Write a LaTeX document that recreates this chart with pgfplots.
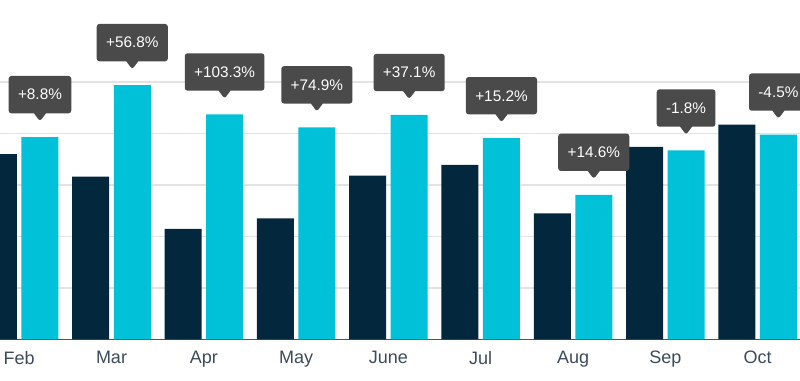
\documentclass[border=0pt]{standalone}
\usepackage{pgfplots}
\pgfplotsset{compat=1.18}
\usepackage{pgfplotstable}
\usepackage{fontspec}
\setmainfont{Liberation Sans}
\usetikzlibrary{shapes.callouts}
\definecolor{darkbar}{HTML}{03283E}
\definecolor{cyanbar}{HTML}{00C1D8}
\definecolor{callgray}{HTML}{4A4A4A}
\definecolor{ticktext}{HTML}{3B4B5A}
\definecolor{gridc}{HTML}{E3E3E3}
\definecolor{basec}{HTML}{4A5560}

\pgfplotstableread{
x dark cyan lbl
0 3.60 3.93 +8.8
1 3.16 4.94 +56.8
2 2.15 4.37 +103.3
3 2.35 4.12 +74.9
4 3.18 4.36 +37.1
5 3.39 3.91 +15.2
6 2.45 2.81 +14.6
7 3.74 3.67 -1.8
8 4.17 3.98 -4.5
}\datatable

\begin{document}
\begin{tikzpicture}
\path[use as bounding box] (0pt,-30.4pt) rectangle (600pt,254.6pt);
\begin{axis}[
  scale only axis,
  width=600pt, height=254.6pt,
  xmin=-0.208, xmax=8.459,
  ymin=0, ymax=6.592,
  ybar=3.4pt,
  bar width=27.75pt,
  axis y line*=left,
  y axis line style={draw=none},
  axis x line*=bottom,
  x axis line style={basec, line width=0.8pt, -},
  xtick=data,
  xticklabels={Feb,Mar,Apr,May,June,Jul,Aug,Sep,Oct},
  xtick style={draw=none},
  ytick style={draw=none},
  yticklabels={},
  xticklabel style={font=\fontsize{13.5}{15}\selectfont, text=ticktext, yshift=-1pt},
  ytick={1,2,3,4,5},
  ymajorgrids,
  grid style={gridc, line width=0.8pt},
  clip mode=individual,
]
\addplot[fill=darkbar, draw=none] table[x=x, y=dark] {\datatable};
\addplot[fill=cyanbar, draw=none,
  nodes near coords={\pgfplotspointmeta\%},
  point meta=explicit symbolic,
  nodes near coords style={rectangle callout, fill=callgray, text=white,
    rounded corners=2pt,
    font=\fontsize{11.5}{13}\selectfont,
    inner xsep=7pt, inner ysep=0pt, minimum height=28pt,
    text height=8pt, text depth=0pt,
    callout relative pointer={(0pt,-6pt)},
    callout pointer width=9pt,
    anchor=pointer, yshift=11.5pt},
] table[x=x, y=cyan, meta=lbl] {\datatable};
\end{axis}
\end{tikzpicture}
\end{document}
